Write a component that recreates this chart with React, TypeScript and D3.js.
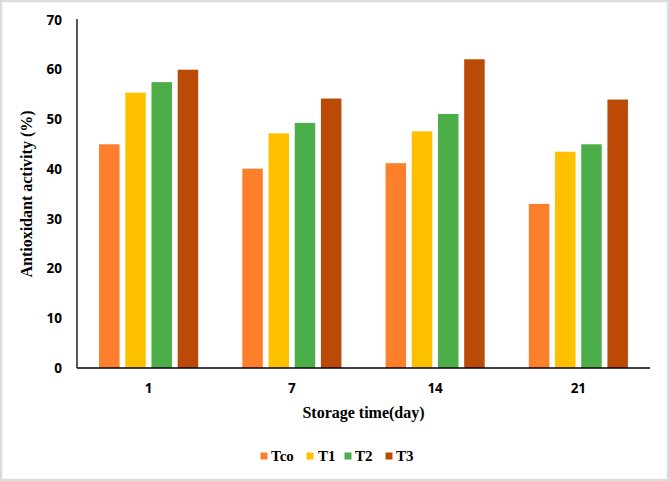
import React from "react";
import * as d3 from "d3";

const categories = ["1", "7", "14", "21"];
const seriesNames = ["Tco", "T1", "T2", "T3"];
const tco = [45, 40.1, 41.2, 33];
const t1 = [55.4, 47.2, 47.6, 43.5];
const t2 = [57.5, 49.3, 51.1, 45];
const t3 = [60, 54.2, 62.1, 54];
const yTicks = [0, 10, 20, 30, 40, 50, 60, 70];
const colors = ["#FD7E2B", "#FFC000", "#4CAE48", "#BA4A06"];

const W = 669;
const H = 481;
const left = 77;
const right = 650;
const top = 20;
const bottom = 368;

export default function App() {
  const series = [tco, t1, t2, t3];
  const x = d3.scaleBand<string>().domain(categories).range([left, right]).paddingInner(0).paddingOuter(0);
  const y = d3.scaleLinear().domain([0, 70]).range([bottom, top]);
  const barW = 20.5;
  const barStep = 26.2;
  const groupW = barStep * 3 + barW;

  const tickFont = "'Open Sans', 'DejaVu Sans', sans-serif";
  const serif = "'Liberation Serif', 'Times New Roman', serif";

  const legendX = [260.5, 306.5, 344.5, 385.5];
  const legendTextX = [271, 318, 355, 396];

  return (
    <svg width={W} height={H} style={{ position: "absolute", left: 0, top: 0, background: "#fff" }}>
      <rect x={1} y={1} width={W - 2} height={H - 2} fill="#fff" stroke="#dcdcdc" strokeWidth={2.5} />
      {series.map((vals, si) =>
        vals.map((v, ci) => {
          const cx = (x(categories[ci]) as number) + x.bandwidth() / 2;
          const bx = cx - groupW / 2 + si * barStep;
          return (
            <rect key={`${si}-${ci}`} x={bx} y={y(v)} width={barW} height={bottom - y(v)} fill={colors[si]} />
          );
        })
      )}
      <line x1={left} x2={left} y1={top - 1} y2={bottom} stroke="#000" strokeWidth={1.3} />
      <line x1={left} x2={right} y1={bottom} y2={bottom} stroke="#000" strokeWidth={1.3} />
      {yTicks.map((t) => (
        <text key={t} x={62} y={y(t)} dy="0.35em" textAnchor="end" fontFamily={tickFont} fontWeight="bold" fontSize={13.5} fill="#000">
          {t}
        </text>
      ))}
      {categories.map((c) => (
        <text key={c} x={(x(c) as number) + x.bandwidth() / 2} y={388} dy="0.35em" textAnchor="middle" fontFamily={tickFont} fontWeight="bold" fontSize={13.5} fill="#000">
          {c}
        </text>
      ))}
      <text x={(left + right) / 2 - 0} y={418} textAnchor="middle" fontFamily={serif} fontWeight="bold" fontSize={16} fill="#000">
        Storage time(day)
      </text>
      <text transform={`translate(32, 194) rotate(-90)`} textAnchor="middle" fontFamily={serif} fontWeight="bold" fontSize={16} fill="#000">
        Antioxidant activity (%)
      </text>
      {seriesNames.map((n, i) => (
        <g key={n}>
          <rect x={legendX[i]} y={452.5} width={7} height={7} fill={colors[i]} />
          <text x={legendTextX[i]} y={461} fontFamily={serif} fontWeight="bold" fontSize={15} fill="#000">
            {n}
          </text>
        </g>
      ))}
    </svg>
  );
}
